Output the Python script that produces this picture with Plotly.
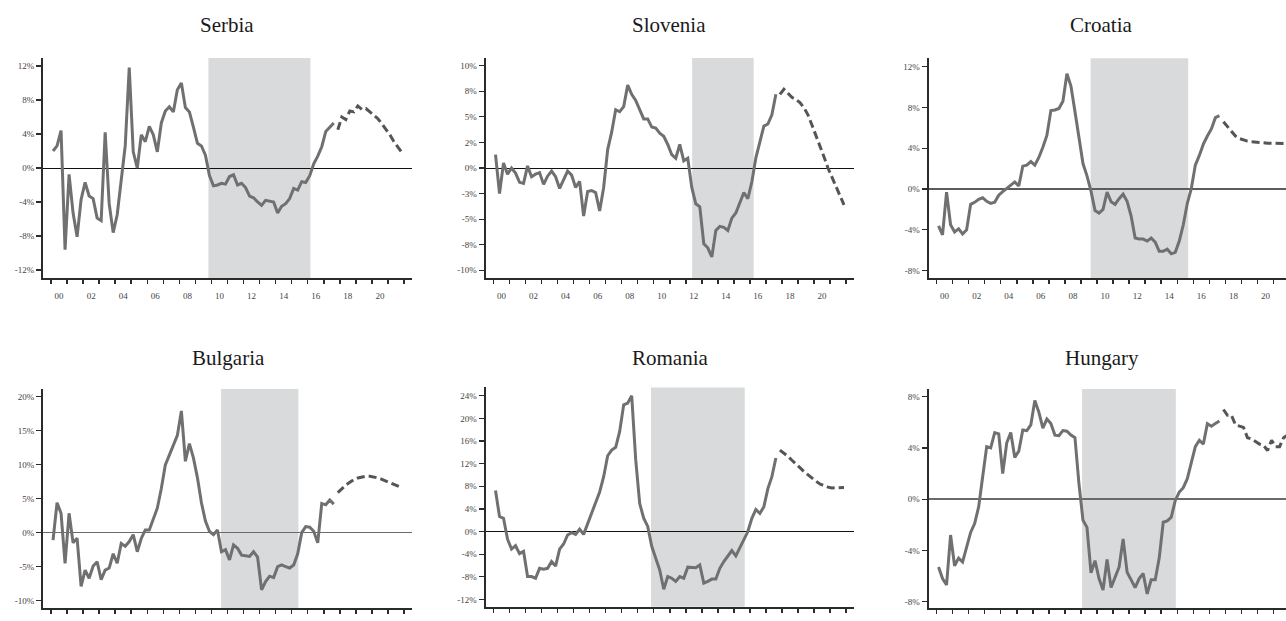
import plotly.graph_objects as go

# ---------------- data (quarterly, % y/y) ----------------
countries = ["Serbia", "Slovenia", "Croatia", "Bulgaria", "Romania", "Hungary"]

serbia_actual = [2.0, 2.6, 4.4, -9.6, -0.75, -5.3, -8.1, -3.7, -1.7, -3.3, -3.6, -5.9,
                 -6.2, 4.2, -4.2, -7.6, -5.5, -1.7, 2.6, 11.8, 1.9, 0.0, 3.9, 3.1,
                 4.9, 3.9, 1.9, 5.3, 6.7, 7.2, 6.6, 9.2, 10.0, 7.1, 6.6, 4.8,
                 2.9, 2.6, 1.5, -0.9, -2.1, -2.0, -1.8, -1.9, -1.0, -0.8, -2.0, -1.8,
                 -2.3, -3.3, -3.5, -4.0, -4.4, -3.8, -3.9, -4.0, -5.3, -4.5, -4.2, -3.6,
                 -2.4, -2.6, -1.6, -1.7, -0.9, 0.5, 1.4, 2.5, 4.3, 4.8, 5.3]
serbia_forecast = [4.5, 6.0, 5.7, 6.7, 6.6, 7.3, 6.9, 7.0, 6.6, 6.2, 5.8, 5.2, 4.6,
                   3.9, 3.1, 2.4, 1.8]

slovenia_actual = [1.3, -2.5, 0.5, -0.6, 0.0, -0.5, -1.4, -1.5, 0.2, -0.85, -0.6, -0.45,
                   -1.6, -0.8, -0.3, -0.85, -2.0, -1.2, -0.3, -0.7, -1.9, -1.3, -4.7, -2.3,
                   -2.2, -2.4, -4.2, -1.9, 1.8, 3.5, 5.7, 5.5, 6.0, 8.1, 7.2, 6.6,
                   5.7, 4.8, 4.8, 4.0, 3.9, 3.4, 3.1, 2.3, 1.3, 0.95, 2.3, 0.7,
                   0.95, -1.9, -3.5, -3.8, -7.4, -7.8, -8.7, -6.1, -5.7, -5.8, -6.1, -4.9,
                   -4.4, -3.3, -2.4, -3.0, -1.35, 1.0, 2.5, 4.1, 4.3, 5.2, 7.2]
slovenia_forecast = [7.2, 7.7, 7.3, 6.9, 6.7, 6.4, 5.9, 5.2, 4.2, 3.2, 2.2, 1.1, 0.0,
                     -0.9, -1.8, -2.8, -3.6]

croatia_actual = [-3.6, -4.5, -0.3, -3.5, -4.2, -3.9, -4.4, -4.0, -1.5, -1.3, -1.0, -0.85,
                  -1.2, -1.4, -1.3, -0.6, -0.25, 0.05, 0.4, 0.7, 0.3, 2.25, 2.35, 2.7,
                  2.35, 3.1, 4.1, 5.25, 7.7, 7.75, 7.9, 8.6, 11.3, 10.1, 7.6, 5.1,
                  2.5, 1.3, -0.2, -2.1, -2.35, -2.0, -0.3, -1.25, -1.5, -0.95, -0.5, -1.2,
                  -2.65, -4.8, -4.9, -4.9, -5.1, -4.8, -5.2, -6.1, -6.1, -5.9, -6.35, -6.2,
                  -5.1, -3.5, -1.4, 0.05, 2.35, 3.3, 4.4, 5.2, 5.9, 7.0, 7.2]
croatia_forecast = [6.6, 6.1, 5.6, 5.2, 4.95, 4.8, 4.7, 4.65, 4.6, 4.55, 4.55, 4.5, 4.5,
                    4.5, 4.45, 4.45, 4.45]

bulgaria_actual = [-1.1, 4.4, 2.85, -4.5, 2.85, -1.5, -0.8, -7.9, -5.5, -6.7, -4.9, -4.3,
                   -6.9, -5.5, -5.2, -3.1, -4.5, -1.6, -2.0, -1.3, -0.3, -2.8, -0.85, 0.4,
                   0.4, 1.9, 3.6, 6.5, 9.95, 11.4, 12.9, 14.3, 17.9, 10.5, 13.1, 11.0,
                   8.1, 4.4, 1.7, 0.2, -0.3, 0.4, -2.8, -2.5, -4.0, -1.8, -2.3, -3.3,
                   -3.4, -3.5, -2.8, -3.6, -8.4, -7.2, -6.4, -6.6, -5.0, -4.75, -5.0, -5.2,
                   -4.75, -3.1, 0.0, 0.9, 0.8, 0.2, -1.5, 4.3, 4.1, 4.8, 4.2]
bulgaria_forecast = [5.9, 6.5, 7.0, 7.4, 7.8, 8.05, 8.2, 8.3, 8.3, 8.2, 8.05, 7.85, 7.6,
                     7.35, 7.1, 6.85, 6.6]

romania_actual = [7.25, 2.65, 2.35, -1.35, -3.1, -2.5, -3.9, -3.5, -7.95, -7.95, -8.25, -6.5,
                  -6.66, -6.5, -5.3, -6.1, -3.1, -2.2, -0.6, -0.2, -0.5, 0.4, -0.5, 1.4,
                  3.2, 4.95, 7.0, 9.7, 13.4, 14.4, 14.9, 17.7, 22.4, 22.7, 24.0, 12.7,
                  4.95, 2.35, 0.9, -2.6, -4.7, -6.8, -10.2, -7.95, -8.25, -8.8, -7.95, -8.25,
                  -6.3, -6.3, -6.4, -5.9, -9.1, -8.8, -8.4, -8.4, -6.5, -5.3, -4.4, -3.35,
                  -4.3, -2.95, -1.5, 0.0, 2.35, 3.9, 3.2, 4.4, 7.6, 9.7, 13.0]
romania_forecast = [14.4, 13.9, 13.3, 12.6, 12.0, 11.3, 10.6, 10.0, 9.4, 8.9, 8.4, 8.1, 7.85,
                    7.7, 7.7, 7.75, 7.8]

hungary_actual = [-5.3, -6.2, -6.7, -2.8, -5.2, -4.6, -4.9, -3.7, -2.6, -1.9, -0.6, 1.75,
                  4.1, 4.0, 5.2, 5.1, 2.0, 4.4, 5.2, 3.25, 3.75, 5.4, 5.35, 5.8,
                  7.7, 6.8, 5.55, 6.25, 5.9, 5.0, 4.95, 5.35, 5.3, 5.0, 4.8, 1.2,
                  -1.65, -2.2, -5.75, -4.8, -6.2, -7.1, -4.7, -6.9, -6.1, -5.3, -3.1, -5.7,
                  -6.3, -6.9, -6.2, -5.8, -7.4, -6.3, -6.3, -4.6, -1.8, -1.7, -1.4, -0.1,
                  0.55, 0.9, 1.6, 2.8, 4.1, 4.6, 4.3, 5.9, 5.7, 5.9, 6.1]
hungary_forecast = [7.0, 6.55, 6.55, 5.8, 5.7, 5.6, 4.8, 4.7, 4.5, 4.3, 4.2, 3.8, 4.6,
                    4.1, 4.1, 4.8, 5.0]

# shaded periods (decimal years)
shade_start = [2009.81, 2012.40, 2009.60, 2010.60, 2009.83, 2009.07]
shade_end = [2016.17, 2016.24, 2015.68, 2015.42, 2015.68, 2014.91]

# y-axis ticks
y_tickvals = [
    [-12, -8, -4, 0, 4, 8, 12],
    [-10, -7.5, -5, -2.5, 0, 2.5, 5, 7.5, 10],
    [-8, -4, 0, 4, 8, 12],
    [-10, -5, 0, 5, 10, 15, 20],
    [-12, -8, -4, 0, 4, 8, 12, 16, 20, 24],
    [-8, -4, 0, 4, 8],
]
y_ticktext = [
    ["-12%", "-8%", "-4%", "0%", "4%", "8%", "12%"],
    ["-10%", "-8%", "-5%", "-3%", "0%", "2%", "5%", "8%", "10%"],
    ["-8%", "-4%", "0%", "4%", "8%", "12%"],
    ["-10%", "-5%", "0%", "5%", "10%", "15%", "20%"],
    ["-12%", "-8%", "-4%", "0%", "4%", "8%", "12%", "16%", "20%", "24%"],
    ["-8%", "-4%", "0%", "4%", "8%"],
]
x_label_years = [2000, 2002, 2004, 2006, 2008, 2010, 2012, 2014, 2016, 2018, 2020]
x_label_text = ["00", "02", "04", "06", "08", "10", "12", "14", "16", "18", "20"]
x_tick_years = list(range(2000, 2023))

actuals = [serbia_actual, slovenia_actual, croatia_actual,
           bulgaria_actual, romania_actual, hungary_actual]
forecasts = [serbia_forecast, slovenia_forecast, croatia_forecast,
             bulgaria_forecast, romania_forecast, hungary_forecast]

ACTUAL_START = 2000.125      # 2000Q1
FORECAST_START = 2017.875    # 2017Q4

# ---------------- layout geometry ----------------
W, H = 1286, 621
col_px = [(43, 412), (485.5, 854), (928.5, 1286)]
row_px = [[(58, 278), (58, 278), (58.3, 278)],
          [(389, 608.3), (387.4, 606.8), (389, 608.3)]]
y_ranges = [[-12.94, 12.94], [-10.75, 10.75], [-8.72, 12.82],
            [-11.12, 21.13], [-13.3, 25.48], [-8.52, 8.6]]
x_ranges = [[1999.5, 2022.5], [1999.5, 2022.5], [1999.5, 1999.5 + (1286 - 928.5) / 16.05]]
zero_style = [("#111111", 1), ("#111111", 1), ("#5c5c5c", 1.6),
              ("#6a6a6a", 1.6), ("#111111", 1), ("#6a6a6a", 1.6)]
title_pos = [(227, 25), (669, 25), (1101, 25), (228, 358), (670, 358), (1102, 358)]

TICKFONT = dict(family="Liberation Serif", size=9, color="#444444")

fig = go.Figure()
layout = dict(width=W, height=H, margin=dict(l=0, r=0, t=0, b=0, autoexpand=False),
              paper_bgcolor="white", plot_bgcolor="white", showlegend=False,
              shapes=[], annotations=[])

for i, name in enumerate(countries):
    r, c = divmod(i, 3)
    n = "" if i == 0 else str(i + 1)
    xa, ya = "x" + n, "y" + n
    x0, x1 = col_px[c]
    ytop, ybot = row_px[r][c]
    act = actuals[i]
    fc = forecasts[i]
    xa_vals = [ACTUAL_START + 0.25 * k for k in range(len(act))]
    xf_vals = [FORECAST_START + 0.25 * k for k in range(len(fc))]

    fig.add_trace(go.Scatter(x=xa_vals, y=act, mode="lines", xaxis=xa, yaxis=ya,
                             line=dict(color="#707070", width=3), hoverinfo="skip"))
    fig.add_trace(go.Scatter(x=xf_vals, y=fc, mode="lines", xaxis=xa, yaxis=ya,
                             line=dict(color="#555555", width=3, dash="8px,4px"),
                             hoverinfo="skip"))

    zc, zw = zero_style[i]
    layout["xaxis" + n] = dict(
        domain=[x0 / W, x1 / W], range=x_ranges[c], anchor=ya, automargin=False,
        showgrid=False, zeroline=False, showline=True, linecolor="#2b2b2b", linewidth=2,
        tickmode="array", tickvals=[y + 0.5 for y in x_label_years], ticktext=x_label_text,
        ticks="", tickfont=TICKFONT, ticklabelstandoff=8,
        minor=dict(tickmode="array", tickvals=x_tick_years, ticks="outside",
                   ticklen=4, tickwidth=1.5, tickcolor="#2b2b2b", showgrid=False),
        fixedrange=True,
    )
    layout["yaxis" + n] = dict(
        domain=[(H - ybot) / H, (H - ytop) / H], range=y_ranges[i], anchor=xa,
        automargin=False,
        showgrid=False, zeroline=True, zerolinecolor=zc, zerolinewidth=zw,
        showline=True, linecolor="#2b2b2b", linewidth=2,
        tickmode="array", tickvals=y_tickvals[i], ticktext=y_ticktext[i],
        ticks="outside", ticklen=5, tickwidth=1.2, tickcolor="#2b2b2b",
        tickfont=TICKFONT, fixedrange=True,
    )
    layout["shapes"].append(dict(type="rect", xref=xa, yref=ya + " domain",
                                 x0=shade_start[i], x1=shade_end[i], y0=0, y1=1,
                                 fillcolor="#d9dadc", line=dict(width=0), layer="below"))
    tx, ty = title_pos[i]
    layout["annotations"].append(dict(text=name, xref="paper", yref="paper",
                                      x=tx / W, y=(H - ty) / H, xanchor="center",
                                      yanchor="middle", showarrow=False,
                                      font=dict(family="Liberation Serif", size=21,
                                                color="#1a1a1a")))

fig.update_layout(**layout)
page_css = ("var s='margin:0;padding:0;overflow:hidden;width:1286px;height:621px;';"
            "document.documentElement.style.cssText=s;"
            "document.body.style.cssText=s;")
fig.write_html("out.html", config={"displayModeBar": False, "staticPlot": True},
               post_script=page_css)
